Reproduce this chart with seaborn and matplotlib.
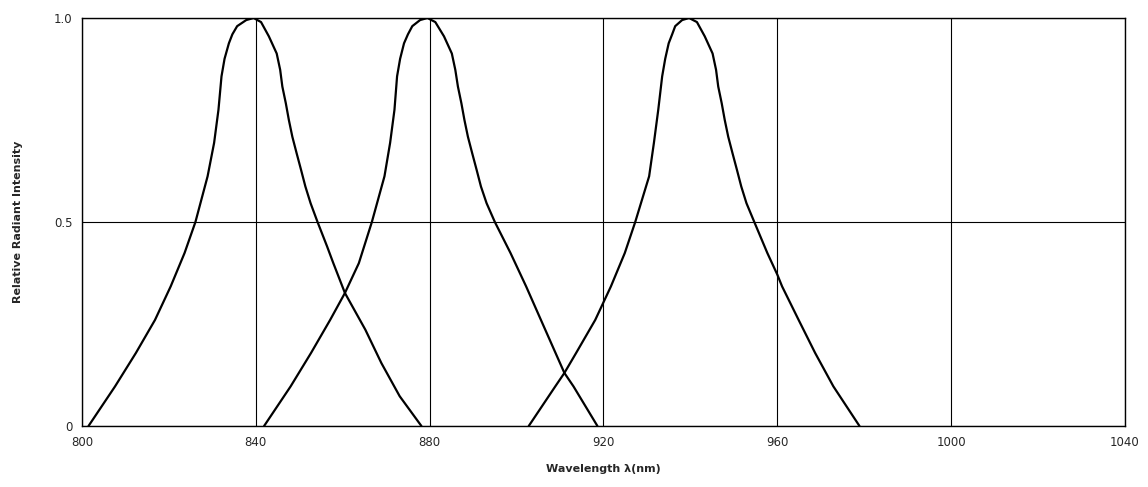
import numpy as np
import pandas as pd
import seaborn as sns
import matplotlib
matplotlib.use("Agg")
import matplotlib.pyplot as plt

# values (wavelength nm, relative intensity)
wl_840 = [801.5, 807.6, 812.4, 816.8, 820.4, 823.6, 826.1, 828.9, 830.4, 831.4,
          832.1, 832.8, 833.8, 834.6, 835.7, 837.8, 839.5, 841.2, 843.0, 844.8,
          845.6, 846.1, 846.9, 847.6, 848.4, 849.4, 850.4, 851.4, 852.6, 854.2,
          856.4, 857.8, 860.5, 865.2, 868.9, 873.1, 878.1]
int_840 = [0.0, 0.097, 0.179, 0.26, 0.342, 0.424, 0.5, 0.612, 0.694, 0.775,
           0.857, 0.90, 0.938, 0.96, 0.98, 0.995, 1.0, 0.99, 0.955, 0.913,
           0.873, 0.832, 0.791, 0.75, 0.709, 0.668, 0.628, 0.587, 0.546, 0.5,
           0.44, 0.40, 0.326, 0.236, 0.154, 0.073, 0.0]

wl_880 = [841.9, 848.0, 852.7, 857.1, 860.5, 863.7, 866.7, 869.6, 870.9, 871.9,
          872.5, 873.2, 874.1, 875.0, 876.0, 877.8, 879.5, 881.3, 883.3, 885.1,
          885.9, 886.5, 887.3, 888.0, 888.8, 889.8, 890.8, 891.8, 893.1, 895.0,
          898.6, 902.2, 905.6, 911.0, 913.1, 918.6]
int_880 = [0.0, 0.097, 0.179, 0.26, 0.326, 0.399, 0.5, 0.612, 0.694, 0.775,
           0.857, 0.90, 0.938, 0.96, 0.98, 0.995, 1.0, 0.99, 0.955, 0.913,
           0.873, 0.832, 0.791, 0.75, 0.709, 0.668, 0.628, 0.587, 0.546, 0.5,
           0.424, 0.342, 0.26, 0.13, 0.097, 0.0]

wl_940 = [902.8, 908.9, 911.0, 913.7, 918.1, 921.7, 924.9, 927.3, 930.5, 931.6,
          932.6, 933.5, 934.2, 935.0, 935.8, 936.5, 938.1, 939.7, 941.5, 943.3,
          945.1, 945.9, 946.4, 947.2, 947.9, 948.7, 949.7, 950.7, 951.7, 952.9,
          954.7, 957.7, 960.0, 961.1, 964.9, 968.7, 972.9, 978.9]
int_940 = [0.0, 0.097, 0.13, 0.179, 0.26, 0.342, 0.424, 0.5, 0.612, 0.694,
           0.775, 0.857, 0.90, 0.938, 0.96, 0.98, 0.995, 1.0, 0.99, 0.955,
           0.913, 0.873, 0.832, 0.791, 0.75, 0.709, 0.668, 0.628, 0.587, 0.546,
           0.5, 0.424, 0.371, 0.342, 0.26, 0.179, 0.097, 0.0]

x_ticks = [800, 840, 880, 920, 960, 1000, 1040]
y_ticks = [0, 0.5, 1.0]
y_tick_labels = ["0", "0.5", "1.0"]

df = pd.concat([
    pd.DataFrame({"wl": wl_840, "rel": int_840, "led": "840"}),
    pd.DataFrame({"wl": wl_880, "rel": int_880, "led": "880"}),
    pd.DataFrame({"wl": wl_940, "rel": int_940, "led": "940"}),
])

sns.set_style("white")
plt.rcParams["font.family"] = ["DejaVu Sans"]

fig = plt.figure(figsize=(11.48, 4.87), dpi=100)
ax = fig.add_axes([82 / 1148, 1 - 426 / 487, (1125 - 82) / 1148, (426 - 18) / 487])

sns.lineplot(data=df, x="wl", y="rel", units="led", estimator=None,
             color="black", linewidth=1.6, ax=ax, zorder=3)

ax.set_xlim(800, 1040)
ax.set_ylim(0, 1.0)
ax.set_xticks(x_ticks)
ax.set_yticks(y_ticks)
ax.set_yticklabels(y_tick_labels)
ax.grid(True, color="black", linewidth=0.8)
ax.tick_params(length=0, labelsize=8.5, pad=7)
for s in ax.spines.values():
    s.set_color("black")
    s.set_linewidth(1.0)

ax.set_xlabel("Wavelength λ(nm)", fontsize=8, fontweight="bold", labelpad=11)
ax.set_ylabel("Relative Radiant Intensity", fontsize=8, fontweight="bold", labelpad=22)

fig.savefig("out.png", dpi=100)
